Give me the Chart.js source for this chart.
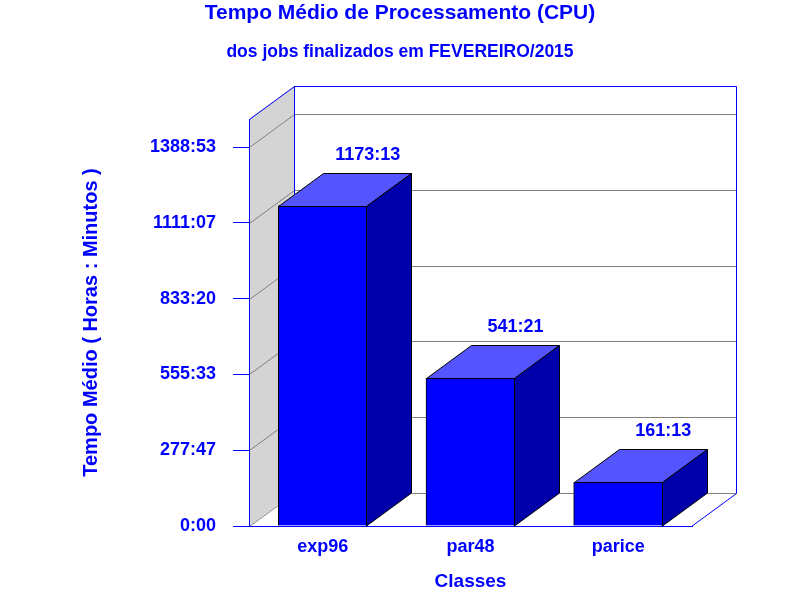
<!DOCTYPE html>
<html><head><meta charset="utf-8">
<script src="https://cdn.jsdelivr.net/npm/chart.js@4.4.1/dist/chart.umd.min.js"></script>
<style>html,body{margin:0;padding:0;background:#fff;}canvas{display:block;}</style>
</head><body>
<canvas id="c" width="800" height="600"></canvas>
<script>
const TITLE = 'Tempo Médio de Processamento (CPU)';
const SUBTITLE = 'dos jobs finalizados em FEVEREIRO/2015';
const X_TITLE = 'Classes';
const Y_TITLE = 'Tempo Médio ( Horas : Minutos )';
const CATEGORIES = ['exp96', 'par48', 'parice'];
// values in minutes: 1173:13, 541:21, 161:13
const VALUES_MIN = [70393, 32481, 9673];
const VALUE_LABELS = ['1173:13', '541:21', '161:13'];
const TICK_VALUES = [0, 16667, 33333, 50000, 66667, 83333];
const TICK_LABELS = ['0:00', '277:47', '555:33', '833:20', '1111:07', '1388:53'];
const Y_MAX = 89500;

const DX = 45, DY = -33;
const FONT = "'Liberation Sans', Arial, sans-serif";
const BLUE = '#0000FF';

function poly(ctx, pts) {
  ctx.beginPath();
  ctx.moveTo(pts[0][0], pts[0][1]);
  for (let i = 1; i < pts.length; i++) ctx.lineTo(pts[i][0], pts[i][1]);
  ctx.closePath();
  ctx.fill();
  ctx.stroke();
}

const threeD = {
  id: 'threeD',
  beforeDraw(chart) {
    const {ctx, chartArea: a} = chart;
    const y = chart.scales.y;
    const L = a.left, R = a.right, T = a.top, B = a.bottom;
    ctx.save();
    ctx.fillStyle = '#fff';
    ctx.fillRect(0, 0, chart.width, chart.height);
    // left wall
    ctx.fillStyle = '#D4D4D4';
    ctx.beginPath();
    ctx.moveTo(L, B); ctx.lineTo(L + DX, B + DY); ctx.lineTo(L + DX, T + DY); ctx.lineTo(L, T);
    ctx.closePath(); ctx.fill();
    // grid lines on walls
    ctx.strokeStyle = '#808080'; ctx.lineWidth = 1;
    TICK_VALUES.forEach(v => {
      const py = Math.round(y.getPixelForValue(v)) + 0.5;
      ctx.beginPath();
      ctx.moveTo(L + 0.5, py);
      ctx.lineTo(L + DX + 0.5, py + DY);
      ctx.lineTo(R + DX - 0.5, py + DY);
      ctx.stroke();
    });
    // blue frame
    ctx.strokeStyle = BLUE;
    ctx.beginPath();
    ctx.moveTo(L + 0.5, T + 0.5);
    ctx.lineTo(L + DX + 0.5, T + DY + 0.5);
    ctx.lineTo(R + DX - 0.5, T + DY + 0.5);
    ctx.lineTo(R + DX - 0.5, B + DY + 0.5);
    ctx.lineTo(R - 0.5, B + 0.5);
    ctx.moveTo(L + DX + 0.5, T + DY + 0.5);
    ctx.lineTo(L + DX + 0.5, B + DY + 0.5);
    ctx.stroke();
    ctx.restore();
  },
  afterDatasetsDraw(chart) {
    const ctx = chart.ctx;
    const meta = chart.getDatasetMeta(0);
    ctx.save();
    ctx.lineWidth = 1;
    ctx.strokeStyle = '#000';
    meta.data.forEach((bar, i) => {
      const p = bar.getProps(['x', 'y', 'base', 'width'], true);
      const xa = Math.round(p.x - p.width / 2) + 0.5;
      const xb = Math.round(p.x + p.width / 2) - 0.5;
      const ya = Math.round(p.y) + 0.5;
      const yb = Math.round(p.base);
      ctx.fillStyle = '#5555FF';
      poly(ctx, [[xa, ya], [xa + DX, ya + DY], [xb + DX, ya + DY], [xb, ya]]);
      ctx.fillStyle = '#0000AA';
      poly(ctx, [[xb, ya], [xb + DX, ya + DY], [xb + DX, yb + DY], [xb, yb]]);
      ctx.fillStyle = BLUE;
      ctx.font = 'bold 18px ' + FONT;
      ctx.textAlign = 'center';
      ctx.textBaseline = 'alphabetic';
      ctx.fillText(VALUE_LABELS[i], p.x + DX, p.y + DY - 13);
    });
    ctx.restore();
  },
  afterDraw(chart) {
    const ctx = chart.ctx;
    ctx.save();
    ctx.fillStyle = BLUE;
    ctx.textAlign = 'center';
    ctx.textBaseline = 'alphabetic';
    ctx.font = 'bold 21px ' + FONT;
    ctx.fillText(TITLE, 400, 19);
    ctx.font = 'bold 17.5px ' + FONT;
    ctx.fillText(SUBTITLE, 400, 57);
    ctx.restore();
  }
};

new Chart(document.getElementById('c'), {
  type: 'bar',
  data: {
    labels: CATEGORIES,
    datasets: [{
      data: VALUES_MIN,
      backgroundColor: BLUE,
      borderColor: '#000',
      borderWidth: 1,
      borderSkipped: 'start',
      barThickness: 89
    }]
  },
  options: {
    responsive: false,
    animation: false,
    devicePixelRatio: 1,
    layout: { padding: { top: 119, right: 108, bottom: 0, left: 0 } },
    plugins: {
      legend: { display: false },
      title: { display: false },
      tooltip: { enabled: false }
    },
    scales: {
      x: {
        grid: { display: false, drawTicks: false },
        border: { display: true, color: BLUE, width: 1 },
        ticks: { color: BLUE, padding: 12, maxRotation: 0, font: { family: FONT, size: 18, weight: 'bold', lineHeight: 1 } },
        title: { display: true, text: X_TITLE, color: BLUE, font: { family: FONT, size: 19, weight: 'bold', lineHeight: 1 }, padding: { top: 0, bottom: 9 } },
        afterFit(s) { s.height = 74; }
      },
      y: {
        min: 0,
        max: Y_MAX,
        afterBuildTicks(s) { s.ticks = TICK_VALUES.map(v => ({ value: v })); },
        grid: { drawOnChartArea: false, drawTicks: true, tickLength: 16, color: BLUE },
        border: { display: true, color: BLUE, width: 1 },
        ticks: { color: BLUE, padding: 17, font: { family: FONT, size: 18, weight: 'bold', lineHeight: 1 }, callback: (v, i) => TICK_LABELS[i] },
        title: { display: true, text: Y_TITLE, color: BLUE, font: { family: FONT, size: 20, weight: 'bold', lineHeight: 1 }, padding: { top: 81, bottom: 0 } },
        afterFit(s) { s.width = 249; }
      }
    }
  },
  plugins: [threeD]
});
</script>
</body></html>
